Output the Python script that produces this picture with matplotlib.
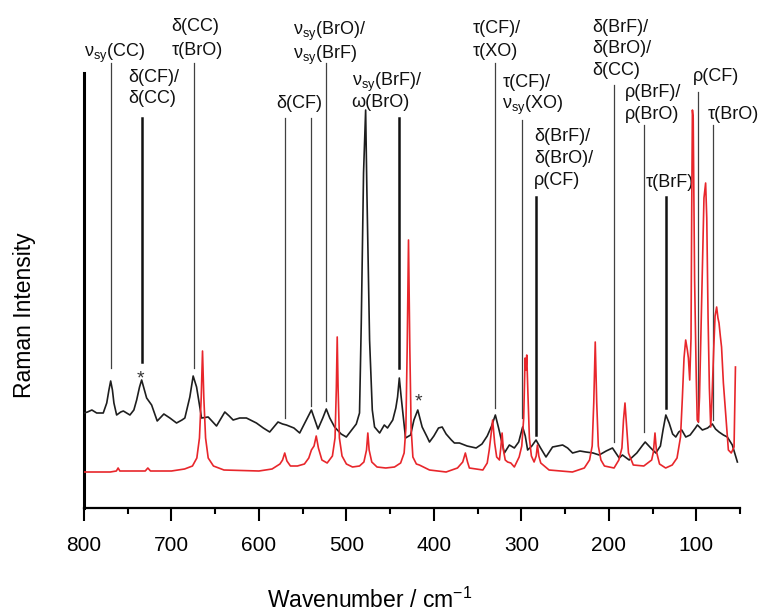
import matplotlib
matplotlib.use("Agg")
import matplotlib.pyplot as plt

plt.rcParams['font.family'] = ['Liberation Sans', 'DejaVu Sans']
plt.rcParams['mathtext.fontset'] = 'custom'
plt.rcParams['mathtext.rm'] = 'Liberation Sans'
plt.rcParams['mathtext.it'] = 'Liberation Sans:italic'

# Experimental Raman spectrum (wavenumber / cm-1, intensity a.u.)
exp_wn = [800, 796, 791, 785.5, 778, 774, 771.5, 769.5, 767.5, 765.8, 762.7, 758, 755,
          747.5, 743, 739.8, 736.5, 734.1, 731, 728.4, 722.7, 716.3, 712, 708.7, 701.8,
          694.2, 688, 684.7, 679, 675.2, 671.3, 668, 665.6, 658, 648.5, 643, 639, 634,
          629.5, 622, 614.3, 602.9, 595, 587.7, 578.2, 573, 568.6, 560, 553.4, 545.8,
          540, 536, 532.5, 527, 523, 519, 513.5, 506, 500.1, 494, 488.7, 485, 483,
          480.4, 478, 476.6, 473.5, 470.4, 467.8, 462, 456.7, 453, 447, 443.5, 441.5,
          439.5, 437.5, 435.8, 432.4, 426.6, 422.8, 418.4, 413.4, 407.7, 405, 400,
          394.7, 390.5, 386, 380, 376.5, 370.8, 362, 351.7, 345, 339, 334, 329.7, 326,
          322, 319.4, 313.7, 308, 303, 298.5, 295.5, 292.8, 288, 283.2, 278, 271.8,
          264.3, 252.8, 247.1, 241.4, 233, 226.2, 218, 211, 203, 195.8, 188.1, 184.4,
          176.7, 168, 162, 158.4, 152, 146.3, 141, 138, 134.8, 131, 127, 123.4, 120,
          116.6, 112, 107, 101, 98.7, 93, 87, 81.6, 78, 74, 69, 64.5, 58.8, 53]
exp_int = [95, 96, 98, 95, 95, 105, 118, 127, 118, 105, 93, 96, 97,
           93, 98, 108, 121, 128, 118, 110, 103, 87, 91, 94, 90,
           85, 88, 90, 111, 132, 121, 103, 90, 91, 82, 90, 96, 92,
           88, 90, 90, 85, 80, 76, 86, 84, 83, 80, 75, 88,
           98, 88, 79, 90, 99, 90, 81, 74, 71, 78, 84, 95, 185,
           335, 398, 318, 168, 98, 81, 75, 83, 80, 88, 100, 111,
           130, 112, 98, 70, 73, 88, 98, 81, 71, 66, 72,
           80, 81, 74, 68, 65, 65, 62, 60, 64, 72, 82, 93, 80,
           65, 55, 63, 60, 66, 81, 72, 58, 62, 68, 60, 51,
           61, 63, 60, 55, 57, 56, 55, 53, 57, 60, 50, 53,
           48, 55, 62, 66, 60, 55, 62, 78, 93, 85, 74, 71, 76,
           78, 71, 73, 80, 83, 78, 80, 84, 79, 76, 73, 71, 63, 46]

# Calculated Raman spectrum
calc_wn = [800, 770, 763, 761, 759, 730, 727, 724, 700, 685, 676, 671, 668, 666,
           664.5, 663, 661, 658, 652, 640, 600, 585, 576, 573, 570.5, 568, 564,
           556, 548, 543, 540, 537, 534.5, 532, 528, 522, 516, 513, 511.5, 510.5,
           509.5, 508, 505, 500, 493, 485, 480, 477, 475.5, 474, 471, 465, 455,
           445, 438, 434, 432, 430.5, 429, 427.5, 426, 424, 420, 416.6, 405, 386,
           373, 367, 364, 361.5, 359.4, 344, 339, 336.7, 334, 332.8, 330.5, 328.2,
           325, 323.5, 322, 320.5, 318.4, 315.7, 312, 308, 302.5, 299.5, 297.3,
           295.7, 294.7, 293.8, 292.6, 290.8, 288.5, 285.4, 283, 281.6, 280, 277.8,
           268.3, 241.6, 228, 222, 219, 217.2, 215.5, 213.8, 212, 209, 205, 194,
           188.5, 185, 183.2, 181.5, 179.8, 177.5, 172, 160, 151, 149, 147.2, 145.4,
           142, 135, 127.5, 122, 118, 115.9, 114, 112.1, 110.2, 109, 107.5, 106,
           105.2, 104.4, 103.5, 101.9, 100, 98.9, 97.5, 96.3, 94, 91.2, 89.3, 88,
           86.5, 85, 83.5, 82, 80, 78.5, 76.7, 75.2, 74, 72.5, 71.1, 69, 66.4, 63.3,
           60, 56.8, 55.2]
calc_int = [36, 36, 37, 40, 37, 37, 40, 37, 37, 39, 42, 50, 70, 110,
            157, 110, 70, 50, 42, 38, 37, 39, 44, 48, 55, 47, 42,
            42, 44, 50, 58, 62, 72, 60, 48, 45, 52, 70, 120, 171,
            120, 70, 52, 44, 41, 42, 46, 58, 75, 58, 46, 41, 40,
            41, 45, 55, 80, 160, 268, 160, 80, 51, 44, 43, 38, 36,
            40, 46, 55, 46, 40, 38, 45, 58, 78, 88, 65, 51,
            48, 60, 75, 58, 48, 46, 45, 41, 51, 62, 90,
            150, 138, 153, 118, 70, 52, 46, 52, 63, 52, 45,
            38, 36, 40, 48, 62, 105, 166, 105, 62, 48, 42, 40,
            48, 60, 88, 105, 84, 55, 43, 42, 48, 56, 75, 56,
            44, 40, 43, 50, 71, 110, 150, 168, 158, 150, 128, 170,
            300, 398, 390, 228, 130, 88, 86, 111, 200, 310, 325, 290,
            190, 120, 81, 110, 160, 192, 201, 190, 185, 172, 161, 125, 95, 58,
            55, 61, 141]

# Band assignments: label lines, left edge (cm-1) and baselines
band_labels = [
    (['ν$_{\\mathregular{sy}}$(CC)'], 800.5, [451]),
    (['δ(CF)/', 'δ(CC)'], 749.8, [426, 405]),
    (['δ(CC)', 'τ(BrO)'], 699.9, [477, 453]),
    (['δ(CF)'], 580.0, [400]),
    (['ν$_{\\mathregular{sy}}$(BrO)/', 'ν$_{\\mathregular{sy}}$(BrF)'], 561.4, [473, 449]),
    (['ν$_{\\mathregular{sy}}$(BrF)/', 'ω(BrO)'], 494.1, [422, 401]),
    (['τ(CF)/', 'τ(XO)'], 355.9, [475, 452]),
    (['τ(CF)/', 'ν$_{\\mathregular{sy}}$(XO)'], 321.7, [421, 399]),
    (['δ(BrF)/', 'δ(BrO)/', 'ρ(CF)'], 285.2, [367, 345, 323]),
    (['δ(BrF)/', 'δ(BrO)/', 'δ(CC)'], 219.0, [476, 455, 433]),
    (['ρ(BrF)/', 'ρ(BrO)'], 181.3, [411, 389]),
    (['τ(BrF)'], 157.7, [321]),
    (['ρ(CF)'], 103.7, [427]),
    (['τ(BrO)'], 86.5, [389]),
]

# Marker lines: position, top, bottom, heavy
marker_wn = [769.5, 734, 674, 570.5, 540, 523, 439.3, 329.7, 299.3, 283.3, 194, 159.6, 135, 98, 80.5]
marker_top = [445, 390, 445, 390, 390, 445, 390, 445, 388, 311, 423, 383, 311, 416, 383]
marker_bot = [140, 146, 140, 90, 102, 107, 140, 100, 90, 73, 66, 76, 100, 86, 88]
marker_heavy = [False, True, False, False, False, False, True, False, False, True,
                False, False, True, False, False]

# Impurity marks
star_wn = [735, 417.5]
star_y = [129, 106]

fig = plt.figure(figsize=(7.67, 6.13), dpi=100)
ax = fig.add_axes([84 / 767, 105 / 613, 656 / 767, 435 / 613])

ax.plot(exp_wn, exp_int, color='#1e1e1e', lw=1.2, zorder=3)
ax.plot(calc_wn, calc_int, color='#e8262b', lw=1.2, zorder=4)

for x, t, b, h in zip(marker_wn, marker_top, marker_bot, marker_heavy):
    ax.plot([x, x], [b, t], color='#111111' if h else '#404040',
            lw=1.8 if h else 0.9, clip_on=False, zorder=2)

for lines, xl, ys in band_labels:
    for s, y in zip(lines, ys):
        ax.text(xl, y, s, ha='left', va='baseline', fontsize=13, color='#111111',
                clip_on=False)

for x, y in zip(star_wn, star_y):
    ax.text(x, y, '*', ha='center', va='center', fontsize=14, color='#333333')

ax.set_xlim(800, 50)
ax.set_ylim(0, 435)
ax.set_xticks([800, 700, 600, 500, 400, 300, 200, 100])
ax.set_xticks([750, 650, 550, 450, 350, 250, 150, 50], minor=True)
ax.set_yticks([])
ax.tick_params(axis='x', which='major', direction='out', length=9, width=1.5,
               labelsize=15, pad=11)
ax.tick_params(axis='x', which='minor', direction='out', length=4.5, width=1.5)

for side in ('top', 'right'):
    ax.spines[side].set_visible(False)
ax.spines['left'].set_linewidth(2.2)
ax.spines['bottom'].set_linewidth(1.6)

fig.text(370 / 767, 1 - 600 / 613, 'Wavenumber / cm$^{\\mathregular{-1}}$',
         ha='center', va='center', fontsize=16.5)
fig.text(25 / 767, 1 - 315 / 613, 'Raman Intensity', rotation=90,
         ha='center', va='center', fontsize=16.5)

fig.savefig('out.png', dpi=100)
